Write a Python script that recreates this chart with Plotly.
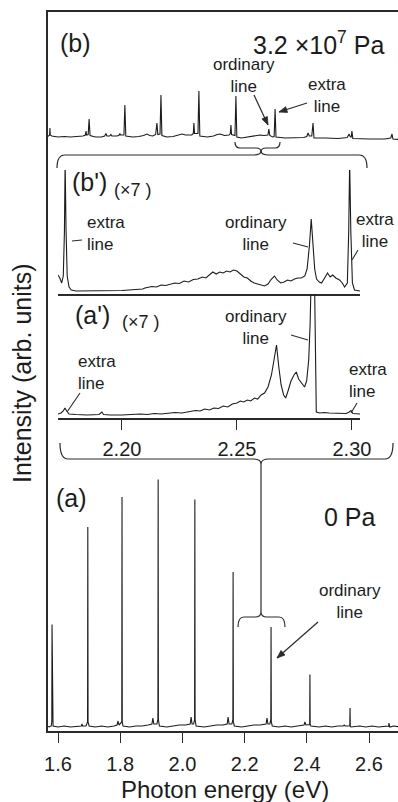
import math
import plotly.graph_objects as go

W, H = 398, 802
FONT = "Liberation Sans, Arial, sans-serif"
INK = "#1c1c1c"

# ---------------- data ----------------
# (a) 0 Pa spectrum, main scale
a_energy = [1.565, 1.572, 1.578, 1.5800, 1.5808, 1.5816, 1.584, 1.60, 1.62, 1.64, 1.66, 1.675, 1.677, 1.679,
            1.690, 1.6950, 1.6958, 1.6966, 1.700, 1.72, 1.74, 1.76, 1.78, 1.790, 1.793, 1.796,
            1.8050, 1.8058, 1.8066, 1.809, 1.83, 1.85, 1.87, 1.89, 1.902, 1.905, 1.908, 1.918,
            1.9212, 1.9220, 1.9228, 1.926, 1.95, 1.97, 1.99, 2.01, 2.025, 2.028, 2.031, 2.036,
            2.0392, 2.0400, 2.0408, 2.044, 2.07, 2.09, 2.11, 2.13, 2.144, 2.147, 2.150, 2.159,
            2.1622, 2.1630, 2.1638, 2.167, 2.19, 2.21, 2.23, 2.25, 2.269, 2.272, 2.275, 2.281,
            2.2842, 2.2850, 2.2858, 2.289, 2.31, 2.33, 2.35, 2.37, 2.391, 2.394, 2.397,
            2.4092, 2.4100, 2.4108, 2.413, 2.44, 2.46, 2.48, 2.50, 2.517, 2.520, 2.523,
            2.5382, 2.5390, 2.5398, 2.542, 2.57, 2.59, 2.61, 2.63, 2.65,
            2.6632, 2.6640, 2.6648, 2.667, 2.68, 2.70]
a_intensity = [0.004, 0.0, 0.004, 0.02, 0.41, 0.02, 0.004, 0.0, 0.004, 0.0, 0.004, 0.004, 0.012, 0.004,
               0.004, 0.02, 0.80, 0.02, 0.004, 0.0, 0.004, 0.0, 0.004, 0.008, 0.024, 0.008,
               0.02, 0.92, 0.02, 0.004, 0.0, 0.004, 0.004, 0.008, 0.012, 0.036, 0.012, 0.012,
               0.03, 0.99, 0.03, 0.004, 0.0, 0.004, 0.008, 0.008, 0.012, 0.04, 0.012, 0.012,
               0.03, 0.91, 0.03, 0.004, 0.0, 0.004, 0.008, 0.008, 0.012, 0.04, 0.012, 0.012,
               0.03, 0.62, 0.02, 0.004, 0.0, 0.004, 0.008, 0.008, 0.012, 0.036, 0.012, 0.012,
               0.03, 0.40, 0.02, 0.004, 0.0, 0.004, 0.0, 0.004, 0.008, 0.02, 0.008,
               0.01, 0.21, 0.01, 0.004, 0.0, 0.004, 0.0, 0.004, 0.004, 0.008, 0.004,
               0.004, 0.076, 0.004, 0.0, 0.004, 0.0, 0.004, 0.0, 0.004,
               0.004, 0.016, 0.004, 0.0, 0.004, 0.0]

# (b) 3.2x10^7 Pa spectrum
b_energy = [1.565, 1.570, 1.573, 1.574, 1.575, 1.580, 1.600, 1.620, 1.640, 1.660, 1.680, 1.688, 1.690, 1.692,
            1.697, 1.700, 1.703, 1.720, 1.740, 1.750, 1.754, 1.757, 1.766, 1.770, 1.773, 1.790, 1.797,
            1.799, 1.801, 1.812, 1.815, 1.818, 1.840, 1.860, 1.875, 1.886, 1.895, 1.905, 1.914, 1.918,
            1.921, 1.928, 1.931, 1.934, 1.950, 1.970, 1.985, 1.999, 2.010, 2.030, 2.035, 2.037, 2.039,
            2.050, 2.053, 2.056, 2.080, 2.100, 2.112, 2.121, 2.135, 2.150, 2.154, 2.156, 2.158, 2.169,
            2.172, 2.175, 2.190, 2.210, 2.230, 2.250, 2.262, 2.270, 2.275, 2.278, 2.281, 2.290, 2.295,
            2.298, 2.301, 2.330, 2.360, 2.390, 2.400, 2.404, 2.408, 2.416, 2.420, 2.423, 2.460, 2.500,
            2.530, 2.536, 2.540, 2.543, 2.545, 2.548, 2.600, 2.650, 2.670, 2.674, 2.677, 2.700]
b_intensity = [0.0, 0.02, 0.04, 0.18, 0.04, 0.02, 0.0, 0.01, 0.0, 0.01, 0.02, 0.04, 0.12, 0.04,
               0.05, 0.36, 0.03, 0.0, 0.0, 0.02, 0.07, 0.02, 0.02, 0.05, 0.02, 0.02, 0.04,
               0.07, 0.04, 0.04, 0.64, 0.02, 0.0, 0.01, 0.03, 0.06, 0.03, 0.02, 0.05, 0.28,
               0.05, 0.06, 0.84, 0.03, 0.0, 0.01, 0.03, 0.06, 0.04, 0.04, 0.07, 0.28, 0.07,
               0.07, 0.92, 0.02, 0.0, 0.02, 0.05, 0.06, 0.03, 0.04, 0.07, 0.24, 0.05, 0.03,
               0.82, 0.0, -0.02, 0.0, 0.02, 0.04, 0.03, 0.03, 0.04, 0.16, 0.03, 0.0, 0.01,
               0.56, 0.0, -0.02, -0.02, -0.01, 0.01, 0.08, 0.02, 0.02, 0.28, -0.02, -0.02, -0.03,
               -0.01, 0.06, 0.0, 0.0, 0.12, -0.03, -0.04, -0.04, -0.02, 0.06, -0.04, -0.05]

# (b') expanded x7
bp_energy = [2.1722, 2.1730, 2.1738, 2.1745, 2.1750, 2.1753, 2.1757, 2.1762, 2.1770, 2.1780, 2.1800,
             2.1850, 2.1900, 2.1950, 2.2000, 2.2030, 2.2060, 2.2090, 2.2100, 2.2130, 2.2150, 2.2170,
             2.2190, 2.2210, 2.2230, 2.2250, 2.2270, 2.2290, 2.2310, 2.2330, 2.2350, 2.2365, 2.2380,
             2.2395, 2.2410, 2.2425, 2.2440, 2.2455, 2.2470, 2.2485, 2.2500, 2.2515, 2.2530, 2.2545,
             2.2560, 2.2575, 2.2590, 2.2605, 2.2620, 2.2635, 2.2650, 2.2663, 2.2675, 2.2690, 2.2705,
             2.2720, 2.2735, 2.2750, 2.2765, 2.2780, 2.2795, 2.2805, 2.2815, 2.2823, 2.2830, 2.2838,
             2.2846, 2.2858, 2.2868, 2.2880, 2.2894, 2.2905, 2.2916, 2.2930, 2.2946, 2.2958, 2.2968,
             2.2980, 2.2986, 2.2990, 2.2995, 2.3002, 2.3011, 2.3035]
bp_intensity = [0.16, 0.13, 0.08, 0.15, 0.60, 1.30, 0.60, 0.15, 0.04, 0.01, 0.00,
                0.00, 0.005, 0.00, 0.005, 0.01, 0.015, 0.02, 0.03, 0.045, 0.04, 0.06,
                0.055, 0.07, 0.08, 0.075, 0.10, 0.09, 0.115, 0.12, 0.14, 0.13, 0.16,
                0.19, 0.17, 0.19, 0.18, 0.20, 0.19, 0.21, 0.20, 0.17, 0.14, 0.13,
                0.10, 0.08, 0.07, 0.06, 0.05, 0.07, 0.12, 0.15, 0.11, 0.08, 0.09,
                0.11, 0.10, 0.12, 0.13, 0.13, 0.15, 0.22, 0.45, 0.72, 0.50, 0.22,
                0.12, 0.09, 0.08, 0.13, 0.18, 0.14, 0.16, 0.13, 0.11, 0.08, 0.04,
                0.08, 0.60, 1.30, 0.60, 0.08, 0.01, 0.00]

# (a') expanded x7
ap_energy = [2.1722, 2.1735, 2.1745, 2.1752, 2.1760, 2.1770, 2.1800, 2.1850, 2.1900, 2.1913, 2.1920,
             2.1950, 2.2000, 2.2050, 2.2080, 2.2110, 2.2140, 2.2170, 2.2200, 2.2230, 2.2260, 2.2290,
             2.2320, 2.2340, 2.2360, 2.2380, 2.2400, 2.2420, 2.2440, 2.2460, 2.2480, 2.2500, 2.2515,
             2.2530, 2.2545, 2.2560, 2.2576, 2.2590, 2.2605, 2.2620, 2.2635, 2.2650, 2.2662, 2.2672,
             2.2682, 2.2692, 2.2703, 2.2712, 2.2722, 2.2735, 2.2748, 2.2758, 2.2768, 2.2780, 2.2794,
             2.2803, 2.2812, 2.2818, 2.2823, 2.2837, 2.2841, 2.2845, 2.2860, 2.2880, 2.2900, 2.2920,
             2.2946, 2.2975, 2.2988, 2.2996, 2.3004, 2.3020, 2.3035]
ap_intensity = [0.01, 0.02, 0.04, 0.07, 0.04, 0.01, 0.005, 0.0, 0.005, 0.03, 0.005,
                0.0, 0.0, 0.005, 0.01, 0.005, 0.015, 0.01, 0.02, 0.025, 0.02, 0.035,
                0.045, 0.04, 0.06, 0.05, 0.07, 0.065, 0.09, 0.08, 0.11, 0.12, 0.14,
                0.13, 0.15, 0.14, 0.17, 0.16, 0.20, 0.22, 0.28, 0.40, 0.58, 0.70,
                0.48, 0.30, 0.20, 0.17, 0.24, 0.34, 0.40, 0.43, 0.36, 0.32, 0.28,
                0.34, 0.55, 0.90, 1.40, 1.40, 0.30, 0.03, 0.02, 0.025, 0.02, 0.02,
                0.015, 0.015, 0.03, 0.045, 0.015, 0.01, 0.01]

main_ticks = [1.6, 1.8, 2.0, 2.2, 2.4, 2.6]
main_ticktext = ["1.6", "1.8", "2.0", "2.2", "2.4", "2.6"]
inset_ticks = [2.20, 2.25, 2.30]
inset_ticktext = ["2.20", "2.25", "2.30"]

# ---------------- helpers (pixel -> paper) ----------------
def px(x):
    return x / W

def py(y):
    return 1 - y / H

line_style = dict(color=INK, width=1.1)

fig = go.Figure()
fig.add_trace(go.Scatter(x=a_energy, y=a_intensity, mode="lines", line=line_style, xaxis="x", yaxis="y"))
fig.add_trace(go.Scatter(x=b_energy, y=b_intensity, mode="lines", line=line_style, xaxis="x", yaxis="y2"))
fig.add_trace(go.Scatter(x=bp_energy, y=bp_intensity, mode="lines", line=line_style, xaxis="x2", yaxis="y3"))
fig.add_trace(go.Scatter(x=ap_energy, y=ap_intensity, mode="lines", line=line_style, xaxis="x3", yaxis="y4"))

axis_font = dict(family=FONT, size=20, color=INK)
hidden_y = dict(showline=False, showticklabels=False, ticks="", showgrid=False, zeroline=False)

fig.update_layout(
    width=W, height=H,
    margin=dict(l=0, r=0, t=0, b=0),
    paper_bgcolor="white", plot_bgcolor="rgba(0,0,0,0)",
    showlegend=False,
    font=dict(family=FONT, color=INK),
    xaxis=dict(domain=[px(47.5), 1.0], range=[1.5662, 2.6932], anchor="y",
               showline=True, linecolor="#2a2a2a", linewidth=1.6, mirror=True,
               ticks="outside", ticklen=10, tickwidth=1.4, tickcolor="#2a2a2a",
               tickvals=main_ticks, ticktext=main_ticktext, tickfont=axis_font,
               ticklabelstandoff=4, showgrid=False, zeroline=False, automargin=False),
    yaxis=dict(domain=[py(731), py(12)], range=[-0.016, 2.86], anchor="x",
               showline=True, linecolor="#2a2a2a", linewidth=1.6,
               showticklabels=False, ticks="", showgrid=False, zeroline=False, automargin=False),
    yaxis2=dict(domain=[py(150), py(12)], range=[-0.26, 2.5], anchor="x", **hidden_y),
    xaxis2=dict(domain=[px(58), px(360)], range=[2.1722, 2.3035], anchor="y3",
                showline=True, linecolor="#2a2a2a", linewidth=1.5, ticks="",
                showticklabels=False, showgrid=False, zeroline=False, automargin=False),
    yaxis3=dict(domain=[py(294), py(170)], range=[-0.03, 1.21], anchor="x2", **hidden_y),
    xaxis3=dict(domain=[px(58), px(360)], range=[2.1722, 2.3035], anchor="y4",
                showline=True, linecolor="#2a2a2a", linewidth=1.5,
                ticks="outside", ticklen=10, tickwidth=1.3, tickcolor="#2a2a2a",
                tickvals=inset_ticks, ticktext=inset_ticktext,
                tickfont=dict(family=FONT, size=20, color=INK), ticklabelstandoff=2,
                showgrid=False, zeroline=False, automargin=False),
    yaxis4=dict(domain=[py(418), py(294)], range=[-0.03, 1.21], anchor="x3", **hidden_y),
)

# ---------------- braces, connector, leader lines ----------------
def path_str(cmds):
    s = ""
    for cmd, cs in cmds:
        s += cmd + " " + " ".join(f"{px(a):.5f},{py(b):.5f}" for a, b in cs) + " "
    return s.strip()

def brace(x0, x1, yline, yend, xc, ycusp, r=7):
    return path_str([
        ("M", [(x0, yend)]),
        ("Q", [(x0, yline), (x0 + r, yline)]),
        ("L", [(xc - r, yline)]),
        ("Q", [(xc, yline), (xc, ycusp)]),
        ("Q", [(xc, yline), (xc + r, yline)]),
        ("L", [(x1 - r, yline)]),
        ("Q", [(x1, yline), (x1, yend)]),
    ])

def arrowhead(hx, hy, tx, ty, length=8, half=3):
    dx, dy = hx - tx, hy - ty
    n = math.hypot(dx, dy)
    ux, uy = dx / n, dy / n
    bx, by = hx - length * ux, hy - length * uy
    return path_str([("M", [(hx, hy)]), ("L", [(bx - half * uy, by + half * ux)]),
                     ("L", [(bx + half * uy, by - half * ux)]), ("Z", [])])

shape_line = dict(color="#2a2a2a", width=1.2)
shapes = [
    dict(type="path", xref="paper", yref="paper", path=brace(235, 280, 148, 142, 261, 152, 5), line=shape_line),
    dict(type="path", xref="paper", yref="paper", path=brace(57, 367, 155, 168, 261, 151, 8), line=shape_line),
    dict(type="path", xref="paper", yref="paper", path=brace(60, 393, 459, 443, 261, 464, 8), line=shape_line),
    dict(type="line", xref="paper", yref="paper", x0=px(261), y0=py(464), x1=px(261), y1=py(612), line=shape_line),
    dict(type="path", xref="paper", yref="paper", path=brace(238, 285, 617, 627, 261, 612, 6), line=shape_line),
]
leaders = [(72, 241, 82, 240), (293, 243, 308, 247), (358, 250, 352, 260),
           (80, 393, 67, 412), (291, 335, 308, 340), (357, 403, 351, 413)]
for (x0, y0, x1, y1) in leaders:
    shapes.append(dict(type="line", xref="paper", yref="paper", x0=px(x0), y0=py(y0), x1=px(x1), y1=py(y1),
                       line=dict(color="#2a2a2a", width=1.1)))
arrows = [(268, 125, 254, 95), (279, 112, 307, 103), (277, 658, 318, 622)]
for (hx, hy, tx, ty) in arrows:
    shapes.append(dict(type="line", xref="paper", yref="paper", x0=px(tx), y0=py(ty), x1=px(hx), y1=py(hy),
                       line=dict(color="#2a2a2a", width=1.2)))
    shapes.append(dict(type="path", xref="paper", yref="paper", path=arrowhead(hx, hy, tx, ty),
                       fillcolor="#2a2a2a", line=dict(color="#2a2a2a", width=0.8)))
fig.update_layout(shapes=shapes)

# ---------------- text ----------------
def label(text, x, y, size=17, anchor="center", align="center", angle=0):
    fig.add_annotation(text=text, x=px(x), y=py(y), xref="paper", yref="paper", showarrow=False,
                       xanchor=anchor, yanchor="middle", align=align, textangle=angle,
                       font=dict(family=FONT, size=size, color=INK))

label("(b)", 75, 43, 25)
label("3.2 ×10<sup>7</sup> Pa", 318, 43, 25)
label("ordinary<br>line", 244, 76)
label("extra<br>line", 327, 95)

label("(b')", 89, 182, 25)
label("(×7 )", 133, 190, 18)
label("extra<br>line", 85, 234, anchor="left", align="left")
label("ordinary<br>line", 256, 234)
label("extra<br>line", 375, 230)

label("(a')", 92, 315, 25)
label("(×7 )", 141, 322, 18)
label("extra<br>line", 76, 373, anchor="left", align="left")
label("ordinary<br>line", 256, 327)
label("extra<br>line", 347, 380, anchor="left", align="left")

label("(a)", 71, 498, 25)
label("0 Pa", 350, 517, 25)
label("ordinary<br>line", 350, 601)

label("Photon energy (eV)", 225, 789, 24)
label("Intensity (arb. units)", 22, 373, 25, angle=-90)

fig.write_html("out.html")
